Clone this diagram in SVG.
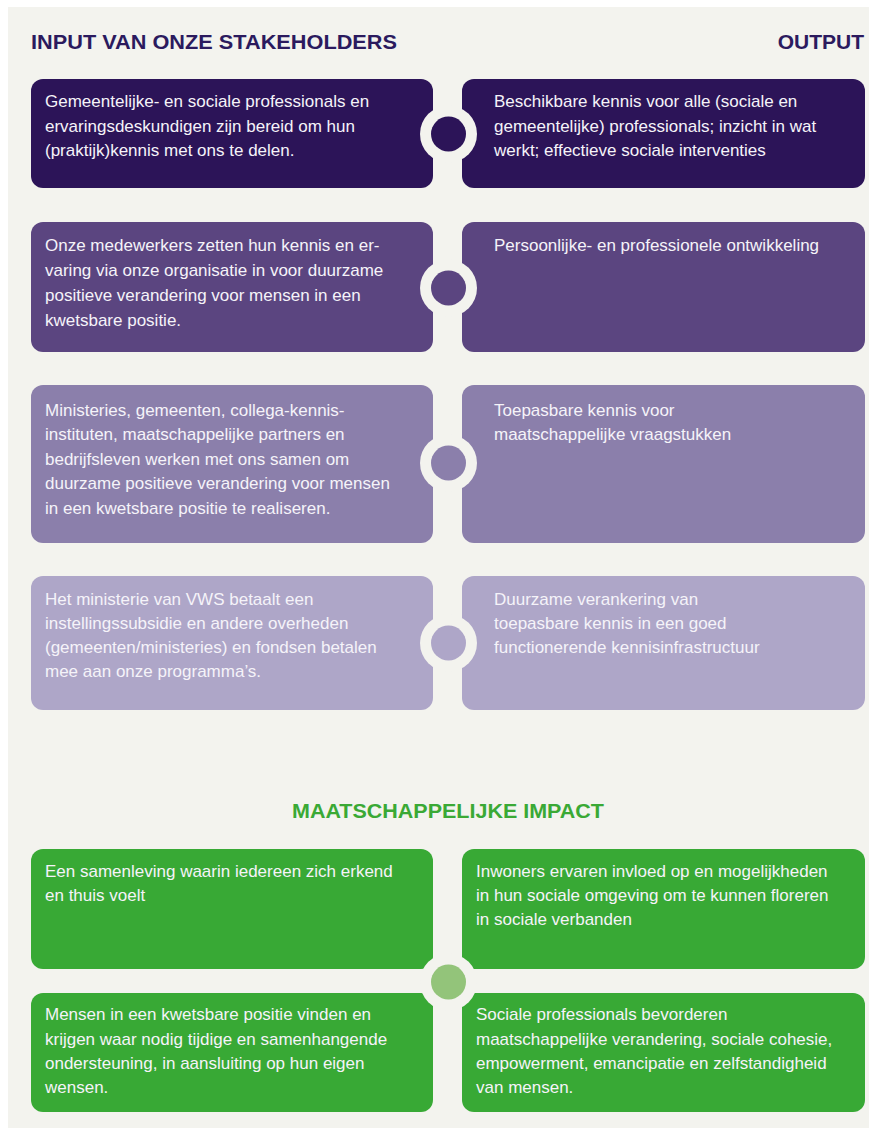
<svg xmlns="http://www.w3.org/2000/svg" width="869" height="1128" viewBox="0 0 869 1128">
<style>
.t{font-family:"Liberation Sans",Arial,sans-serif;font-size:17px;fill:#f5f3f9}
.h{font-family:"Liberation Sans",Arial,sans-serif;font-size:21px;font-weight:bold}
.ring{fill:#f3f3ee}
.r1{fill:#2c1458}.r2{fill:#5b4580}.r3{fill:#8b7fab}.r4{fill:#aea6c8}.g{fill:#38a935}
</style>
<rect width="869" height="1128" fill="#ffffff"/>
<rect x="8" y="7" width="861" height="1121" fill="#f3f3ee"/>
<text class="h" x="31" y="49" fill="#2b1a5e" textLength="366" lengthAdjust="spacingAndGlyphs">INPUT VAN ONZE STAKEHOLDERS</text>
<text class="h" x="864" y="49" fill="#2b1a5e" text-anchor="end">OUTPUT</text>
<text class="h" x="448" y="818" fill="#3aa935" text-anchor="middle" textLength="312" lengthAdjust="spacingAndGlyphs">MAATSCHAPPELIJKE IMPACT</text>

<g id="in1"><rect class="r1" x="31" y="79" width="402" height="109" rx="12"/>
<text class="t" x="45"><tspan x="45" y="107">Gemeentelijke- en sociale professionals en</tspan><tspan x="45" y="132">ervaringsdeskundigen zijn bereid om hun</tspan><tspan x="45" y="156">(praktijk)kennis met ons te delen.</tspan></text></g>
<g id="out1"><rect class="r1" x="462" y="79" width="403" height="109" rx="12"/>
<text class="t"><tspan x="494" y="107">Beschikbare kennis voor alle (sociale en</tspan><tspan x="494" y="132">gemeentelijke) professionals; inzicht in wat</tspan><tspan x="494" y="156">werkt; effectieve sociale interventies</tspan></text></g>

<g id="in2"><rect class="r2" x="31" y="222" width="402" height="130" rx="12"/>
<text class="t"><tspan x="45" y="251">Onze medewerkers zetten hun kennis en er-</tspan><tspan x="45" y="276">varing via onze organisatie in voor duurzame</tspan><tspan x="45" y="301">positieve verandering voor mensen in een</tspan><tspan x="45" y="326">kwetsbare positie.</tspan></text></g>
<g id="out2"><rect class="r2" x="462" y="222" width="403" height="130" rx="12"/>
<text class="t"><tspan x="494" y="251">Persoonlijke- en professionele ontwikkeling</tspan></text></g>

<g id="in3"><rect class="r3" x="31" y="385" width="402" height="158" rx="12"/>
<text class="t"><tspan x="45" y="416">Ministeries, gemeenten, collega-kennis-</tspan><tspan x="45" y="440">instituten, maatschappelijke partners en</tspan><tspan x="45" y="465">bedrijfsleven werken met ons samen om</tspan><tspan x="45" y="489">duurzame positieve verandering voor mensen</tspan><tspan x="45" y="514">in een kwetsbare positie te realiseren.</tspan></text></g>
<g id="out3"><rect class="r3" x="462" y="385" width="403" height="158" rx="12"/>
<text class="t"><tspan x="494" y="416">Toepasbare kennis voor</tspan><tspan x="494" y="440">maatschappelijke vraagstukken</tspan></text></g>

<g id="in4"><rect class="r4" x="31" y="576" width="402" height="134" rx="12"/>
<text class="t"><tspan x="45" y="605">Het ministerie van VWS betaalt een</tspan><tspan x="45" y="629">instellingssubsidie en andere overheden</tspan><tspan x="45" y="653">(gemeenten/ministeries) en fondsen betalen</tspan><tspan x="45" y="677">mee aan onze programma’s.</tspan></text></g>
<g id="out4"><rect class="r4" x="462" y="576" width="403" height="134" rx="12"/>
<text class="t"><tspan x="494" y="605">Duurzame verankering van</tspan><tspan x="494" y="629">toepasbare kennis in een goed</tspan><tspan x="494" y="653">functionerende kennisinfrastructuur</tspan></text></g>

<g id="imp1"><rect class="g" x="31" y="849" width="402" height="120" rx="12"/>
<text class="t"><tspan x="45" y="877">Een samenleving waarin iedereen zich erkend</tspan><tspan x="45" y="901">en thuis voelt</tspan></text></g>
<g id="imp2"><rect class="g" x="462" y="849" width="403" height="120" rx="12"/>
<text class="t"><tspan x="476" y="877">Inwoners ervaren invloed op en mogelijkheden</tspan><tspan x="476" y="901">in hun sociale omgeving om te kunnen floreren</tspan><tspan x="476" y="925">in sociale verbanden</tspan></text></g>
<g id="imp3"><rect class="g" x="31" y="993" width="402" height="119" rx="12"/>
<text class="t"><tspan x="45" y="1020">Mensen in een kwetsbare positie vinden en</tspan><tspan x="45" y="1045">krijgen waar nodig tijdige en samenhangende</tspan><tspan x="45" y="1069">ondersteuning, in aansluiting op hun eigen</tspan><tspan x="45" y="1093">wensen.</tspan></text></g>
<g id="imp4"><rect class="g" x="462" y="993" width="403" height="119" rx="12"/>
<text class="t"><tspan x="476" y="1020">Sociale professionals bevorderen</tspan><tspan x="476" y="1045">maatschappelijke verandering, sociale cohesie,</tspan><tspan x="476" y="1069">empowerment, emancipatie en zelfstandigheid</tspan><tspan x="476" y="1093">van mensen.</tspan></text></g>

<g id="connectors">
<circle class="ring" cx="448.5" cy="134" r="28.5"/><circle class="r1" cx="448.5" cy="134" r="17.5"/>
<circle class="ring" cx="448.5" cy="288" r="28.5"/><circle class="r2" cx="448.5" cy="288" r="17.5"/>
<circle class="ring" cx="448.5" cy="463" r="28.5"/><circle class="r3" cx="448.5" cy="463" r="17.5"/>
<circle class="ring" cx="448.5" cy="643" r="28.5"/><circle class="r4" cx="448.5" cy="643" r="17.5"/>
<circle class="ring" cx="448.5" cy="982" r="28.5"/><circle cx="448.5" cy="982" r="17.5" fill="#93c47a"/>
</g>
</svg>
